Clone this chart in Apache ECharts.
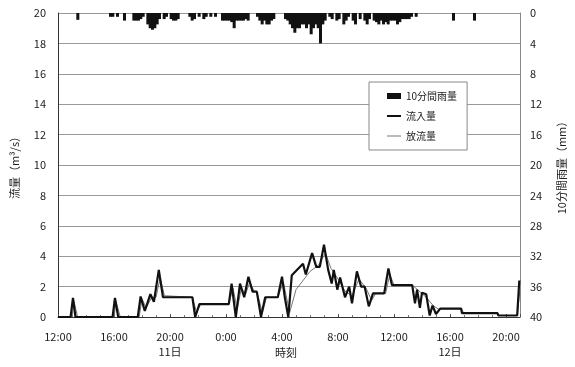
<!DOCTYPE html>
<html>
<head>
<meta charset="utf-8">
<script src="https://cdn.jsdelivr.net/npm/echarts@6/dist/echarts.min.js"></script>
<style>
  html, body { margin: 0; padding: 0; background: #fff; }
  #chart { width: 575px; height: 367px; }
</style>
</head>
<body>
<div id="chart"></div>
<script>
// 10-minute rainfall (mm), "day hh:mm"
const rain = [
  ["11 13:30", 0.9],
  ["11 15:50", 0.5], ["11 16:00", 0.5], ["11 16:20", 0.5], ["11 16:50", 1.0],
  ["11 17:30", 1.0], ["11 17:40", 1.0], ["11 17:50", 1.0], ["11 18:00", 0.8], ["11 18:10", 0.5],
  ["11 18:30", 1.5], ["11 18:40", 2.0], ["11 18:50", 2.2], ["11 19:00", 2.0], ["11 19:10", 1.5], ["11 19:20", 0.8],
  ["11 19:40", 0.8], ["11 19:50", 0.5], ["11 20:10", 0.8], ["11 20:20", 1.0], ["11 20:30", 1.0], ["11 20:40", 0.8],
  ["11 21:30", 0.5], ["11 21:40", 1.0], ["11 21:50", 0.8],
  ["11 22:10", 0.5], ["11 22:30", 0.8], ["11 22:40", 0.5], ["11 23:00", 0.5], ["11 23:20", 0.5],
  ["11 23:50", 1.0], ["12 00:00", 1.0], ["12 00:10", 1.0], ["12 00:20", 1.0], ["12 00:30", 1.2],
  ["12 00:40", 2.0], ["12 00:50", 1.0], ["12 01:00", 1.0], ["12 01:10", 1.0], ["12 01:20", 1.0],
  ["12 01:30", 0.8], ["12 01:40", 1.0],
  ["12 02:20", 0.5], ["12 02:30", 1.0], ["12 02:40", 1.5], ["12 02:50", 1.0], ["12 03:00", 1.5],
  ["12 03:10", 1.5], ["12 03:20", 1.0], ["12 03:30", 0.8],
  ["12 04:20", 0.8], ["12 04:30", 1.0], ["12 04:40", 1.5], ["12 04:50", 2.0], ["12 05:00", 2.6],
  ["12 05:10", 2.0], ["12 05:20", 2.0], ["12 05:30", 1.5], ["12 05:40", 1.5], ["12 05:50", 2.0],
  ["12 06:00", 1.5], ["12 06:10", 2.8], ["12 06:20", 2.0], ["12 06:30", 1.5], ["12 06:40", 2.0],
  ["12 06:50", 4.0], ["12 07:00", 1.5], ["12 07:10", 1.0],
  ["12 07:30", 0.5], ["12 07:40", 0.8], ["12 08:00", 1.0], ["12 08:10", 0.8], ["12 08:30", 1.5],
  ["12 08:40", 1.0], ["12 08:50", 0.5], ["12 09:10", 1.0], ["12 09:20", 1.5], ["12 09:40", 0.8],
  ["12 10:00", 1.0], ["12 10:10", 1.5], ["12 10:20", 0.8], ["12 10:40", 1.0], ["12 10:50", 1.2],
  ["12 11:00", 1.5], ["12 11:10", 1.0], ["12 11:20", 1.5], ["12 11:30", 1.2], ["12 11:40", 1.5],
  ["12 11:50", 1.0], ["12 12:00", 1.0], ["12 12:10", 1.0], ["12 12:20", 1.5], ["12 12:30", 1.2],
  ["12 12:40", 0.8], ["12 12:50", 0.8], ["12 13:00", 0.8], ["12 13:10", 0.8], ["12 13:20", 0.5],
  ["12 13:40", 0.5],
  ["12 16:20", 1.0], ["12 17:50", 1.0]
];

// inflow / outflow (m3/s), [hours since 11日 12:00, value]
const inflow = [
  [0, 0], [0.9, 0], [1.07, 1.25], [1.25, 0], [3.9, 0], [4.07, 1.25], [4.3, 0],
  [5.7, 0], [5.9, 1.35], [6.2, 0.4], [6.6, 1.5], [6.85, 1.0], [7.2, 3.1], [7.5, 1.3],
  [9.6, 1.3], [9.8, 0], [10.1, 0.85], [12.2, 0.85], [12.4, 2.2], [12.7, 0],
  [13.0, 2.2], [13.3, 1.3], [13.6, 2.65], [13.9, 1.67], [14.2, 1.67], [14.5, 0],
  [14.8, 1.3], [15.7, 1.3], [16.0, 2.65], [16.2, 1.3], [16.45, 0], [16.7, 2.75],
  [17.5, 3.5], [17.7, 2.8], [18.15, 4.2], [18.45, 3.3], [18.7, 3.3], [19.0, 4.75],
  [19.3, 3.1], [19.55, 2.2], [19.7, 3.1], [19.95, 1.8], [20.15, 2.6], [20.5, 1.3],
  [20.8, 2.0], [21.0, 0.9], [21.35, 3.0], [21.65, 2.0], [21.9, 2.0], [22.2, 0.7],
  [22.5, 1.55], [23.3, 1.55], [23.6, 3.2], [23.85, 2.1], [25.3, 2.1], [25.5, 0.9],
  [25.65, 1.8], [25.85, 0.6], [26.0, 1.6], [26.3, 1.5], [26.55, 0.1], [26.75, 0.75],
  [27.0, 0.2], [27.3, 0.55], [28.8, 0.55], [28.85, 0.25], [31.4, 0.25], [31.45, 0.1],
  [32.8, 0.1], [32.95, 2.4]
];

const outflow = [
  [0, 0], [1.0, 0], [1.15, 1.0], [1.4, 0], [4.0, 0], [4.15, 1.0], [4.45, 0],
  [5.8, 0], [6.0, 1.2], [6.3, 0.6], [6.7, 1.3], [7.0, 1.3], [7.3, 2.6], [7.6, 1.4],
  [9.6, 1.3], [9.9, 0.3], [10.2, 0.85], [12.2, 0.85], [12.5, 1.9], [12.8, 0.5],
  [13.1, 1.9], [13.4, 1.5], [13.7, 2.3], [14.0, 1.7], [14.2, 1.67], [14.6, 0.3],
  [14.9, 1.3], [15.7, 1.3], [16.1, 2.3], [16.3, 1.4], [16.55, 0.3], [17.0, 1.8],
  [18.0, 3.0], [18.6, 3.4], [19.1, 4.2], [19.5, 3.2], [20.0, 2.5], [20.5, 1.7],
  [21.0, 1.4], [21.5, 2.5], [22.0, 1.9], [22.4, 1.1], [22.7, 1.55], [23.4, 1.55],
  [23.7, 2.8], [24.0, 2.1], [25.3, 2.1], [25.8, 1.7], [26.3, 1.3], [26.8, 0.75],
  [27.2, 0.5], [27.4, 0.55], [28.8, 0.55], [29.0, 0.25], [31.4, 0.25], [31.5, 0.1],
  [32.8, 0.1], [33, 1.8]
];

const dayLabels = [
  { text: "11日", at: 8 },
  { text: "12日", at: 28 }
];

// "11 13:30" -> hours since 11日 12:00 (bar centred in its 10 minutes)
function toHours(s) {
  const [d, hm] = s.split(" ");
  const [h, m] = hm.split(":").map(Number);
  return (Number(d) - 11) * 24 + h - 12 + (m - 5) / 60;
}

const font = '"Noto Sans CJK JP", "Noto Sans", sans-serif';
const chart = echarts.init(document.getElementById("chart"), null, { renderer: "canvas" });

const option = {
  animation: false,
  textStyle: { fontFamily: font, color: "#222" },
  grid: { left: 58, right: 47, top: 13, bottom: 50 },
  legend: {
    orient: "vertical",
    left: 369,
    top: 82,
    width: 119,
    padding: [9, 10, 9, 18],
    itemGap: 10,
    itemWidth: 14,
    itemHeight: 12,
    borderColor: "#888",
    borderWidth: 1,
    backgroundColor: "#fff",
    textStyle: { fontFamily: font, fontSize: 10, color: "#222" },
    data: [
      { name: "10分間雨量", icon: "path://M0,3L14,3L14,9L0,9Z" },
      { name: "流入量", icon: "path://M0,5L14,5L14,7L0,7Z" },
      { name: "放流量", icon: "path://M0,5.5L14,5.5L14,6.5L0,6.5Z" }
    ]
  },
  xAxis: {
    type: "value",
    min: 0,
    max: 33,
    interval: 4,
    axisLine: { lineStyle: { color: "#333", width: 1 } },
    axisTick: { show: true, inside: true, length: 3, lineStyle: { color: "#555" } },
    minorTick: { show: true, splitNumber: 4, length: 2, lineStyle: { color: "#777" } },
    splitLine: { show: false },
    axisLabel: {
      margin: 14,
      fontSize: 11,
      color: "#222",
      formatter: (v) => ((12 + v) % 24) + ":00"
    }
  },
  yAxis: [
    {
      type: "value",
      min: 0,
      max: 20,
      interval: 2,
      name: "流量（m³/s）",
      nameLocation: "middle",
      nameGap: 38,
      nameRotate: 90,
      nameTextStyle: { fontSize: 11, color: "#222" },
      axisLine: { show: true, lineStyle: { color: "#333" } },
      axisTick: { show: false },
      axisLabel: { fontSize: 11, margin: 12, color: "#222" },
      splitLine: { lineStyle: { color: "#999", width: 1 } }
    },
    {
      type: "value",
      min: 0,
      max: 40,
      interval: 4,
      inverse: true,
      name: "10分間雨量（mm）",
      nameLocation: "middle",
      nameGap: 36,
      nameRotate: 90,
      nameTextStyle: { fontSize: 11, color: "#222" },
      axisLine: { show: true, lineStyle: { color: "#888" } },
      axisTick: { show: false },
      axisLabel: { fontSize: 11, margin: 10, color: "#222" },
      splitLine: { show: false }
    }
  ],
  series: [
    {
      name: "10分間雨量",
      type: "bar",
      yAxisIndex: 1,
      data: rain.map((r) => [toHours(r[0]), r[1]]),
      barWidth: 3,
      itemStyle: { color: "#111" }
    },
    {
      name: "放流量",
      type: "line",
      data: outflow,
      symbol: "none",
      lineStyle: { color: "#777", width: 1 },
      itemStyle: { color: "#777" }
    },
    {
      name: "流入量",
      type: "line",
      data: inflow,
      symbol: "none",
      lineStyle: { color: "#111", width: 2.2 },
      itemStyle: { color: "#111" }
    }
  ]
};

chart.setOption(option);

// day labels and axis title under the time labels
const texts = dayLabels.map((d) => {
  const p = chart.convertToPixel({ xAxisIndex: 0, yAxisIndex: 0 }, [d.at, 0]);
  return {
    type: "text",
    x: p[0], y: 352,
    style: { text: d.text, fontFamily: font, fontSize: 11, fill: "#222", align: "center", verticalAlign: "middle" }
  };
});
texts.push({
  type: "text",
  x: 286, y: 353,
  style: { text: "時刻", fontFamily: font, fontSize: 11, fill: "#222", align: "center", verticalAlign: "middle" }
});
chart.setOption({ graphic: texts });
</script>
</body>
</html>
